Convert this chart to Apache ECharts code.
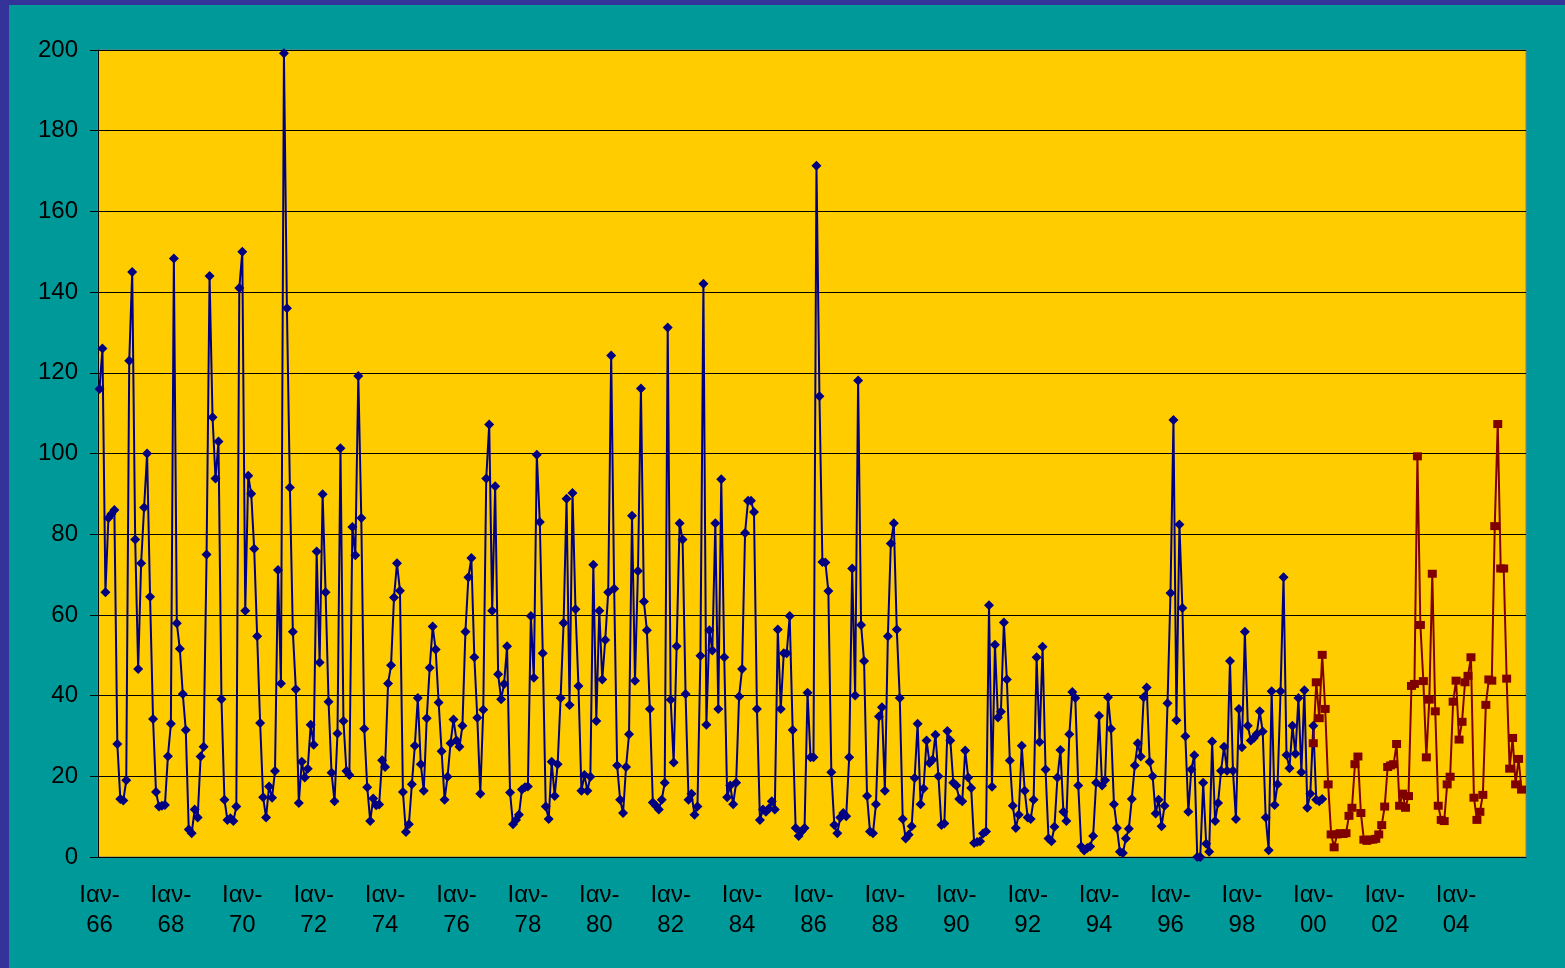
<!DOCTYPE html>
<html>
<head>
<meta charset="utf-8">
<script src="https://cdn.jsdelivr.net/npm/echarts@6/dist/echarts.min.js"></script>
<style>
  html, body { margin: 0; padding: 0; background: #009999; }
  #chart { position: absolute; left: 0; top: 0; width: 1565px; height: 968px; }
  .edge { position: absolute; background: #333399; z-index: 5; }
</style>
</head>
<body>
<div id="chart"></div>
<div class="edge" style="left:0;top:0;width:9px;height:968px"></div>
<div class="edge" style="left:0;top:0;width:1565px;height:5px"></div>
<script>
// monthly values, Jan 1966 .. Dec 2005
const firstYear = 1966;
const lastYear = 2005;

// blue series (Jan 1966 .. Apr 2000)
const blue1966_1975 = [
  116, 126, 65.6, 84, 85, 86, 28, 14.4, 14, 19, 123, 145,
  78.7, 46.6, 72.8, 86.6, 100, 64.5, 34.2, 16.1, 12.5, 12.7, 12.9, 25,
  33, 148.3, 57.9, 51.6, 40.4, 31.5, 6.8, 5.9, 11.8, 9.8, 24.9, 27.3,
  75, 144, 109, 93.8, 103, 39.1, 14.2, 9.2, 9.6, 8.9, 12.5, 141,
  150, 61, 94.5, 90, 76.4, 54.7, 33.2, 14.8, 9.8, 17.5, 14.7, 21.3,
  71.1, 43, 199.2, 136, 91.6, 55.8, 41.6, 13.4, 23.6, 19.7, 21.9, 32.8,
  27.8, 75.7, 48.2, 89.9, 65.6, 38.5, 20.9, 13.8, 30.6, 101.3, 33.7, 21.3,
  20.3, 81.8, 74.8, 119.2, 84, 31.8, 17.3, 8.9, 14.5, 12.8, 13, 24,
  22.3, 43, 47.5, 64.3, 72.8, 66, 16.1, 6.2, 8.1, 18, 27.6, 39.4,
  23, 16.4, 34.4, 46.9, 57.1, 51.4, 38.3, 26.2, 14.2, 19.9, 28.2, 34.1
];
const blue1976_1985 = [
  28.9, 27.3, 32.5, 55.8, 69.3, 74.1, 49.5, 34.5, 15.7, 36.5, 93.8, 107.2,
  61, 91.9, 45.3, 39.1, 42.9, 52.2, 16, 8.1, 9.2, 10.5, 16.7, 17.3,
  17.5, 59.7, 44.4, 99.7, 83, 50.5, 12.5, 9.4, 23.6, 15.1, 23, 39.4,
  58, 88.8, 37.7, 90.2, 61.4, 42.4, 16.4, 20.3, 16.4, 19.9, 72.4, 33.7,
  61, 44, 53.8, 65.6, 124.3, 66.5, 22.7, 14.2, 10.9, 22.3, 30.4, 84.6,
  43.7, 70.9, 116.1, 63.3, 56.2, 36.7, 13.5, 12.7, 11.8, 14.2, 18.4, 131.2,
  39, 23.4, 52.2, 82.7, 78.7, 40.4, 14.2, 15.7, 10.5, 12.5, 49.9, 142.1,
  32.8, 56.2, 51.2, 82.7, 36.7, 93.6, 49.5, 14.8, 17.7, 13.1, 18.4, 39.8,
  46.6, 80.3, 88.3, 88.3, 85.5, 36.7, 9.2, 11.8, 11.2, 12, 13.8, 11.8,
  56.4, 36.7, 50.5, 50.5, 59.7, 31.5, 7.2, 5.2, 6.3, 7.2, 40.7, 24.7
];
const blue1986_1995 = [
  24.7, 171.3, 114.2, 73.1, 73, 65.9, 21, 7.9, 5.9, 9.8, 10.9, 10.1,
  24.7, 71.5, 40, 118.1, 57.5, 48.6, 15.1, 6.3, 5.9, 13.1, 34.8, 37.1,
  16.4, 54.7, 77.7, 82.7, 56.4, 39.4, 9.4, 4.6, 5.5, 7.6, 19.6, 33,
  13.1, 17, 28.9, 23.3, 24.1, 30.3, 20, 7.9, 8.3, 31.2, 28.9, 18.4,
  17.7, 14.4, 13.8, 26.4, 19.7, 17.1, 3.5, 3.7, 3.9, 5.8, 6.3, 62.4,
  17.4, 52.6, 34.6, 36, 58.1, 44, 23.9, 12.7, 7.2, 10.5, 27.6, 16.4,
  9.8, 9.4, 14.2, 49.5, 28.5, 52.1, 21.7, 4.6, 3.9, 7.5, 19.7, 26.5,
  11.2, 8.9, 30.4, 40.9, 39.4, 17.7, 2.6, 1.6, 2.2, 2.6, 5.2, 18.4,
  35, 17.7, 19, 39.6, 31.8, 13.1, 7.2, 1.3, 1.0, 4.6, 7, 14.4,
  22.7, 28.2, 24.9, 39.6, 42, 23.6, 20, 10.8, 14.2, 7.6, 12.7, 38.1
];
const blue1996_2000 = [
  65.4, 108.3, 33.9, 82.4, 61.7, 29.9, 11.2, 21.7, 25.2, 0, 0, 18.4,
  3.3, 1.3, 28.6, 8.9, 13.4, 21.4, 27.3, 21.4, 48.6, 21.4, 9.4, 36.7,
  27.2, 55.8, 32.5, 28.9, 29.5, 30.5, 36.1, 31.1, 9.8, 1.7, 41.1, 12.9,
  18, 41.1, 69.3, 25.3, 22, 32.5, 25.6, 39.4, 21, 41.3, 12.2, 15.7,
  32.5, 14.2, 13.8, 14.4
];

// red series (Jan 2000 .. Nov 2005)
const redStart = '2000-01';
const red2000_2005 = [
  28.2, 43.3, 34.4, 50.1, 36.7, 18, 5.6, 2.4, 5.6, 5.9, 5.7, 5.9,
  10.2, 12.2, 23, 24.9, 10.9, 4.3, 4.0, 4.3, 4.3, 4.5, 5.6, 7.9,
  12.5, 22.3, 22.7, 23, 28, 12.7, 15.7, 12.2, 15.1, 42.4, 42.9, 99.3,
  57.5, 43.6, 24.7, 39, 70.2, 36.1, 12.7, 9.2, 8.9, 18, 19.9, 38.5,
  43.7, 29.1, 33.5, 43.3, 44.9, 49.5, 14.7, 9.2, 11.2, 15.4, 37.7, 44,
  43.7, 82, 107.3, 71.5, 71.5, 44.2, 21.9, 29.5, 18, 24.3, 16.7
];

const yTicks = [0, 20, 40, 60, 80, 100, 120, 140, 160, 180, 200];

const months = [];
for (let y = firstYear; y <= lastYear; y++) {
  for (let m = 1; m <= 12; m++) {
    months.push(y + '-' + (m < 10 ? '0' + m : m));
  }
}

const blueValues = [].concat(blue1966_1975, blue1976_1985, blue1986_1995, blue1996_2000);
const blueData = months.map((_, i) => (i < blueValues.length ? blueValues[i] : null));
const redOffset = months.indexOf(redStart);
const redData = months.map((_, i) => {
  const k = i - redOffset;
  return k >= 0 && k < red2000_2005.length ? red2000_2005[k] : null;
});

const chart = echarts.init(document.getElementById('chart'));
const option = {
  animation: false,
  backgroundColor: '#009999',
  textStyle: { fontFamily: 'Liberation Sans, Arial, sans-serif' },
  grid: {
    left: 98,
    right: 39,
    top: 50,
    bottom: 111,
    show: true,
    backgroundColor: '#FFCC00',
    borderColor: '#808080',
    borderWidth: 1
  },
  xAxis: {
    type: 'category',
    data: months,
    boundaryGap: true,
    axisLine: { lineStyle: { color: '#000', width: 1 } },
    axisTick: {
      interval: 23,
      length: 6,
      lineStyle: { color: '#000' }
    },
    axisLabel: {
      interval: 23,
      color: '#000',
      fontSize: 24,
      lineHeight: 30,
      margin: 23,
      formatter: function (v) {
        return v.slice(5) === '01' ? 'Ιαν-\n' + v.slice(2, 4) : '';
      }
    },
    splitLine: { show: false }
  },
  yAxis: {
    type: 'value',
    min: yTicks[0],
    max: yTicks[yTicks.length - 1],
    interval: 20,
    axisLine: { show: true, lineStyle: { color: '#000', width: 1 } },
    axisTick: { show: true, length: 8, lineStyle: { color: '#000' } },
    axisLabel: { color: '#000', fontSize: 24, margin: 20 },
    splitLine: { lineStyle: { color: '#000', width: 1 } }
  },
  series: [
    {
      type: 'line',
      data: blueData,
      symbol: 'diamond',
      symbolSize: [10, 10],
      showAllSymbol: true,
      connectNulls: false,
      itemStyle: { color: '#000080' },
      lineStyle: { color: '#000080', width: 2 }
    },
    {
      type: 'line',
      data: redData,
      symbol: 'rect',
      symbolSize: [9, 8],
      showAllSymbol: true,
      connectNulls: false,
      itemStyle: { color: '#800000' },
      lineStyle: { color: '#800000', width: 2 }
    }
  ]
};
chart.setOption(option);
</script>
</body>
</html>
